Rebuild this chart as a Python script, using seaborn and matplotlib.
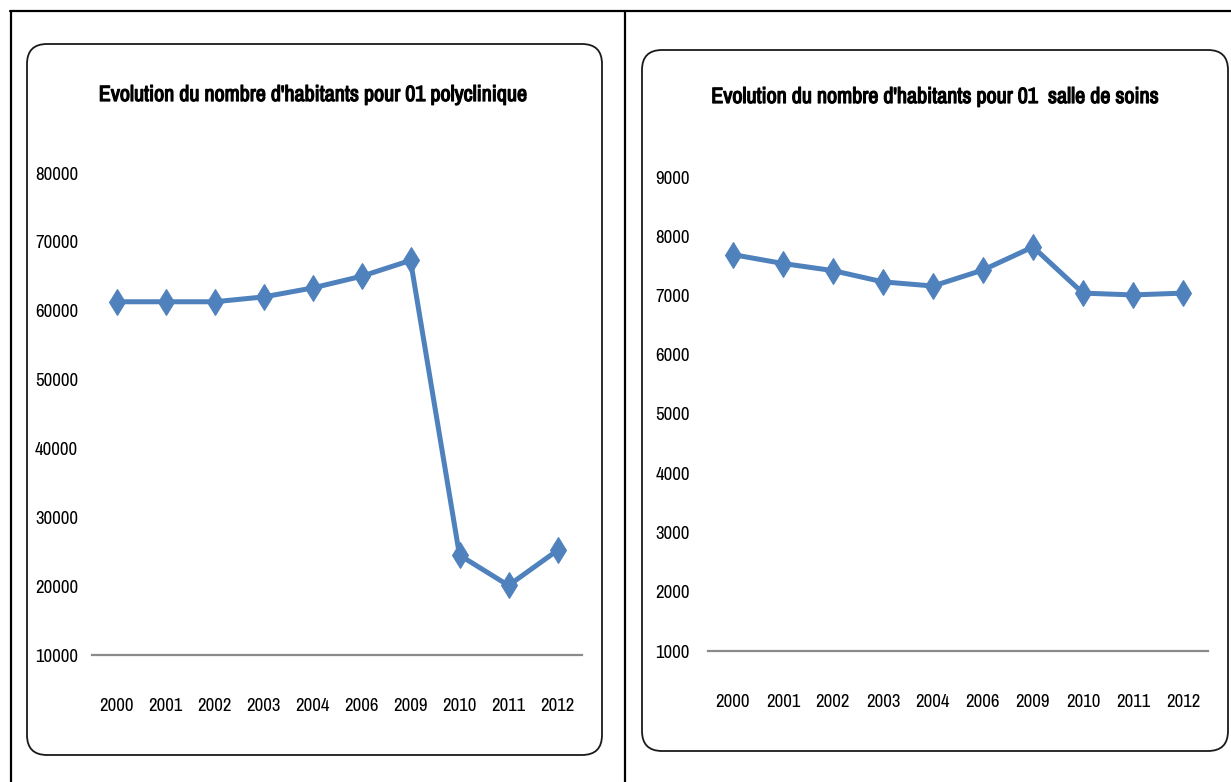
import matplotlib
matplotlib.use("Agg")
import matplotlib.pyplot as plt
from matplotlib import font_manager as fm
from matplotlib import patheffects as pe
from matplotlib.patches import FancyBboxPatch
from matplotlib.lines import Line2D
import seaborn as sns
import pandas as pd

years = ["2000", "2001", "2002", "2003", "2004", "2006", "2009", "2010", "2011", "2012"]
polyclinique = [61300, 61300, 61300, 62000, 63300, 65000, 67300, 24500, 20100, 25200]
salle_soins = [7690, 7540, 7420, 7230, 7160, 7430, 7820, 7040, 7010, 7040]
title_left = "Evolution du nombre d'habitants pour 01 polyclinique"
title_right = "Evolution du nombre d'habitants pour 01  salle de soins"
yticks_left = [10000, 20000, 30000, 40000, 50000, 60000, 70000, 80000]
yticks_right = [1000, 2000, 3000, 4000, 5000, 6000, 7000, 8000, 9000]

sns.set_theme(style="white")

STRETCH = {"ultra-condensed": 100, "extra-condensed": 200, "condensed": 300,
           "semi-condensed": 400, "normal": 500}


def stretch_num(f):
    s = f.stretch
    if isinstance(s, (int, float)):
        return s
    s = str(s).lower()
    if s in STRETCH:
        return STRETCH[s]
    n = f.name.lower().replace(" ", "")
    if "extracondensed" in n:
        return 200
    if "narrow" in n or "condensed" in n:
        return 300
    return 500


def weight_num(w):
    if isinstance(w, int):
        return w
    table = {"normal": 400, "regular": 400, "book": 400, "bold": 700,
             "medium": 500, "light": 300, "semibold": 600, "demibold": 600,
             "heavy": 800, "black": 900}
    return table.get(str(w).lower(), 400)


cands = [f for f in fm.fontManager.ttflist if stretch_num(f) <= 300 and f.style == "normal"]
cands.sort(key=lambda f: (stretch_num(f), f.name))
reg = next((f for f in cands if 350 <= weight_num(f.weight) < 550), None)
bold = None
if reg is not None:
    bold = next((f for f in cands if 600 <= weight_num(f.weight) <= 750
                 and f.name == reg.name and stretch_num(f) == stretch_num(reg)), None)

title_effects = None
if reg is not None:
    fp_reg = fm.FontProperties(fname=reg.fname)
    sn = stretch_num(reg)
    if sn <= 200:
        tick_size, title_size = 15.5, 19
    else:
        tick_size, title_size = 13.5, 15.9
    if bold is not None:
        fp_bold = fm.FontProperties(fname=bold.fname)
    else:
        fp_bold = fm.FontProperties(fname=reg.fname)
        title_effects = [pe.withStroke(linewidth=0.9, foreground="black")]
else:
    plt.rcParams["font.family"] = ["Liberation Sans", "DejaVu Sans"]
    fp_reg = fm.FontProperties(family=["Liberation Sans", "DejaVu Sans"])
    fp_bold = fm.FontProperties(family=["Liberation Sans", "DejaVu Sans"], weight="bold")
    tick_size, title_size = 12, 12

W, H = 1231, 782
fig = plt.figure(figsize=(W / 100, H / 100), dpi=100)

# background frame axes in pixel coordinates
bg = fig.add_axes([0, 0, 1, 1])
bg.set_xlim(0, W)
bg.set_ylim(H, 0)
bg.axis("off")
bg.add_line(Line2D([10, W], [11, 11], color="black", lw=1.6))
bg.add_line(Line2D([11, 11], [11, H], color="black", lw=1.6))
bg.add_line(Line2D([625, 625], [11, H], color="black", lw=1.6))
for (x0, y0, x1, y1) in [(27, 44, 602, 755), (642, 50, 1228, 751)]:
    r = 20
    bg.add_patch(FancyBboxPatch((x0 + r, y0 + r), (x1 - x0) - 2 * r, (y1 - y0) - 2 * r,
                                boxstyle=f"round,pad={r}", fc="none", ec="#1a1a1a", lw=1.3))

blue = "#4F81BD"


def panel(rect_px, values, yticks, title, title_xy, ypad):
    x0, y_top, x1, y_bot = rect_px
    ax = fig.add_axes([x0 / W, 1 - y_bot / H, (x1 - x0) / W, (y_bot - y_top) / H])
    df = pd.DataFrame({"annee": years, "valeur": values})
    sns.lineplot(data=df, x="annee", y="valeur", sort=False, ax=ax, color=blue,
                 lw=3.6, marker="d", markersize=13.5, markeredgecolor=blue,
                 markerfacecolor=blue)
    ax.set_xlim(-0.5, len(years) - 0.5)
    ax.set_ylim(yticks[0], yticks[-1])
    ax.set_yticks(yticks)
    ax.set_yticklabels([str(v) for v in yticks])
    ax.set_xlabel("")
    ax.set_ylabel("")
    for s in ["top", "right", "left"]:
        ax.spines[s].set_visible(False)
    ax.spines["bottom"].set_color("#8a8a8a")
    ax.spines["bottom"].set_linewidth(1.6)
    ax.tick_params(axis="y", length=0, pad=ypad, colors="black")
    ax.tick_params(axis="x", length=0, pad=31, colors="black")
    for lab in ax.get_xticklabels() + ax.get_yticklabels():
        lab.set_fontproperties(fp_reg)
        lab.set_fontsize(tick_size)
    ax.set_facecolor("none")
    t = bg.text(title_xy[0], title_xy[1], title, ha="center", va="center",
                fontproperties=fp_bold, fontsize=title_size, color="black")
    if title_effects:
        t.set_path_effects(title_effects)
    return ax


panel((92, 173, 582, 655), polyclinique, yticks_left, title_left, (313, 95), 10)
panel((708, 177, 1208, 651), salle_soins, yticks_right, title_right, (935, 97), 13)

fig.savefig("out.png", dpi=100)
